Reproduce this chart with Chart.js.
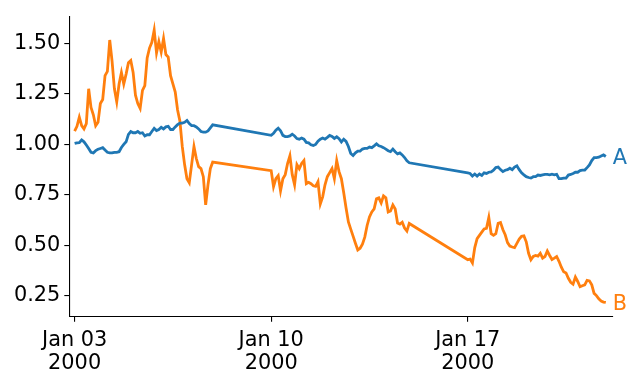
<!DOCTYPE html>
<html>
<head>
<meta charset="utf-8">
<script src="https://cdn.jsdelivr.net/npm/chart.js@4/dist/chart.umd.min.js"></script>
<style>
  html, body { margin: 0; padding: 0; background: #ffffff; }
  #wrap { width: 638px; height: 380px; }
</style>
</head>
<body>
<div id="wrap"><canvas id="c" width="638" height="380"></canvas></div>
<script>
// Trading days (day of month, January 2000) and sampled hours of each day
const tradingDays = [3, 4, 5, 6, 7, 10, 11, 12, 13, 14, 17, 18, 19, 20, 21];
const sampleHours = [0, 2, 4, 6, 8, 10, 12, 14, 16, 18, 20, 22];

// Series A (blue)
const seriesA = [
  // week of Jan 03
  1.005, 1.008, 1.009, 1.022, 1.013, 0.997, 0.980, 0.961, 0.958, 0.969, 0.976, 0.980,
  0.984, 0.972, 0.961, 0.958, 0.958, 0.961, 0.961, 0.964, 0.985, 1.000, 1.013, 1.050,
  1.064, 1.058, 1.058, 1.064, 1.055, 1.058, 1.042, 1.048, 1.048, 1.064, 1.080, 1.069,
  1.074, 1.085, 1.077, 1.087, 1.090, 1.074, 1.074, 1.087, 1.098, 1.106, 1.106, 1.110,
  1.119, 1.103, 1.093, 1.093, 1.087, 1.077, 1.064, 1.061, 1.061, 1.067, 1.082, 1.097,
  // week of Jan 10
  1.045, 1.055, 1.071, 1.081, 1.068, 1.045, 1.039, 1.039, 1.042, 1.051, 1.042, 1.029,
  1.026, 1.032, 1.026, 1.010, 1.008, 0.998, 0.995, 1.000, 1.016, 1.026, 1.032, 1.026,
  1.035, 1.045, 1.040, 1.030, 1.038, 1.028, 1.012, 1.026, 1.015, 0.990, 0.955, 0.945,
  0.958, 0.967, 0.967, 0.977, 0.980, 0.980, 0.987, 0.984, 0.993, 1.003, 0.993, 0.990,
  0.984, 0.977, 0.969, 0.964, 0.977, 0.964, 0.953, 0.958, 0.948, 0.935, 0.919, 0.909,
  // week of Jan 17
  0.859, 0.856, 0.843, 0.853, 0.843, 0.853, 0.846, 0.859, 0.856, 0.862, 0.864, 0.872,
  0.885, 0.888, 0.875, 0.865, 0.872, 0.875, 0.882, 0.875, 0.888, 0.894, 0.875, 0.859,
  0.849, 0.840, 0.836, 0.833, 0.840, 0.840, 0.848, 0.846, 0.849, 0.851, 0.851, 0.849,
  0.852, 0.849, 0.852, 0.830, 0.830, 0.833, 0.833, 0.848, 0.851, 0.856, 0.862, 0.862,
  0.870, 0.872, 0.873, 0.885, 0.898, 0.920, 0.935, 0.935, 0.937, 0.943, 0.948, 0.940
];

// Series B (orange)
const seriesB = [
  // week of Jan 03
  1.066, 1.090, 1.135, 1.093, 1.077, 1.103, 1.276, 1.184, 1.147, 1.093, 1.110, 1.203,
  1.223, 1.341, 1.362, 1.518, 1.413, 1.276, 1.211, 1.300, 1.357, 1.300, 1.349, 1.405,
  1.416, 1.357, 1.244, 1.203, 1.179, 1.268, 1.292, 1.429, 1.478, 1.507, 1.567, 1.454,
  1.510, 1.458, 1.526, 1.446, 1.433, 1.341, 1.300, 1.260, 1.171, 1.115, 0.990, 0.900,
  0.830, 0.810, 0.900, 0.990, 0.930, 0.890, 0.880, 0.840, 0.700, 0.800, 0.880, 0.912,
  // week of Jan 10
  0.870, 0.790, 0.830, 0.845, 0.770, 0.830, 0.850, 0.905, 0.944, 0.850, 0.800, 0.900,
  0.880, 0.905, 0.920, 0.805, 0.812, 0.805, 0.795, 0.792, 0.815, 0.705, 0.740, 0.800,
  0.840, 0.860, 0.880, 0.830, 0.920, 0.865, 0.830, 0.760, 0.685, 0.615, 0.580, 0.545,
  0.510, 0.476, 0.485, 0.505, 0.540, 0.598, 0.640, 0.665, 0.680, 0.730, 0.735, 0.710,
  0.745, 0.735, 0.665, 0.670, 0.700, 0.680, 0.610, 0.605, 0.614, 0.585, 0.570, 0.608,
  // week of Jan 17
  0.428, 0.431, 0.412, 0.488, 0.533, 0.549, 0.565, 0.581, 0.584, 0.638, 0.557, 0.549,
  0.557, 0.609, 0.613, 0.578, 0.552, 0.513, 0.496, 0.491, 0.488, 0.509, 0.530, 0.544,
  0.546, 0.517, 0.460, 0.428, 0.444, 0.449, 0.446, 0.460, 0.436, 0.444, 0.471, 0.449,
  0.429, 0.436, 0.444, 0.420, 0.391, 0.368, 0.362, 0.336, 0.316, 0.307, 0.342, 0.320,
  0.294, 0.299, 0.303, 0.326, 0.323, 0.303, 0.261, 0.250, 0.234, 0.223, 0.218, 0.216
];

const seriesLabels = ['A', 'B'];
const seriesColors = ['#1f77b4', '#ff7f0e'];

// Tick positions (hours since Jan 03 2000 00:00) and labels
const xTickHours = [0, 168, 336];
const xTickLabels = [['Jan 03', '2000'], ['Jan 10', '2000'], ['Jan 17', '2000']];
const yTickValues = [0.25, 0.50, 0.75, 1.00, 1.25, 1.50];
const yTickLabels = ['0.25', '0.50', '0.75', '1.00', '1.25', '1.50'];

// Build x positions (hours since Jan 03 00:00) from the calendar
const xHours = [];
tradingDays.forEach(d => sampleHours.forEach(h => xHours.push((d - 3) * 24 + h)));

const toPoints = vals => vals.map((v, i) => ({ x: xHours[i], y: v }));

const FONT = { family: 'DejaVu Sans', size: 20.83 };

const endLabels = {
  id: 'endLabels',
  afterDatasetsDraw(chart) {
    const ctx = chart.ctx;
    ctx.save();
    ctx.font = FONT.size + 'px "DejaVu Sans"';
    ctx.textAlign = 'left';
    ctx.textBaseline = 'alphabetic';
    chart.data.datasets.forEach((ds, i) => {
      const meta = chart.getDatasetMeta(i);
      const last = meta.data[meta.data.length - 1];
      ctx.fillStyle = seriesColors[i];
      ctx.fillText(seriesLabels[i], last.x + 7, last.y + 7.6);
    });
    ctx.restore();
  }
};

new Chart(document.getElementById('c'), {
  type: 'line',
  data: {
    datasets: [
      { label: seriesLabels[0], data: toPoints(seriesA), borderColor: seriesColors[0],
        borderWidth: 2.8, pointRadius: 0, tension: 0, fill: false },
      { label: seriesLabels[1], data: toPoints(seriesB), borderColor: seriesColors[1],
        borderWidth: 2.8, pointRadius: 0, tension: 0, fill: false }
    ]
  },
  options: {
    responsive: false,
    animation: false,
    devicePixelRatio: 1,
    layout: { padding: { top: 9.3, right: 25.7, left: 0, bottom: 0 } },
    plugins: { legend: { display: false }, tooltip: { enabled: false } },
    scales: {
      x: {
        type: 'linear',
        min: -4.55,
        max: 459.55,
        afterBuildTicks: s => { s.ticks = xTickHours.map(v => ({ value: v })); },
        afterFit: s => { s.height = 63.3; },
        ticks: {
          color: '#000',
          font: { family: FONT.family, size: FONT.size, lineHeight: 1.075 },
          padding: 8,
          maxRotation: 0,
          autoSkip: false,
          callback: (v) => xTickLabels[xTickHours.indexOf(v)]
        },
        grid: { drawOnChartArea: false, drawTicks: true, tickLength: 5, color: '#000', lineWidth: 1.1 },
        border: { display: true, color: '#000', width: 1.1 }
      },
      y: {
        type: 'linear',
        min: 0.1453,
        max: 1.6347,
        afterBuildTicks: s => { s.ticks = yTickValues.map(v => ({ value: v })); },
        afterFit: s => { s.width = 69.3; },
        ticks: {
          color: '#000',
          font: { family: FONT.family, size: FONT.size },
          padding: 4,
          autoSkip: false,
          callback: (v) => yTickLabels[yTickValues.indexOf(v)]
        },
        grid: { drawOnChartArea: false, drawTicks: true, tickLength: 5, color: '#000', lineWidth: 1.1 },
        border: { display: true, color: '#000', width: 1.1 }
      }
    }
  },
  plugins: [endLabels]
});
</script>
</body>
</html>
